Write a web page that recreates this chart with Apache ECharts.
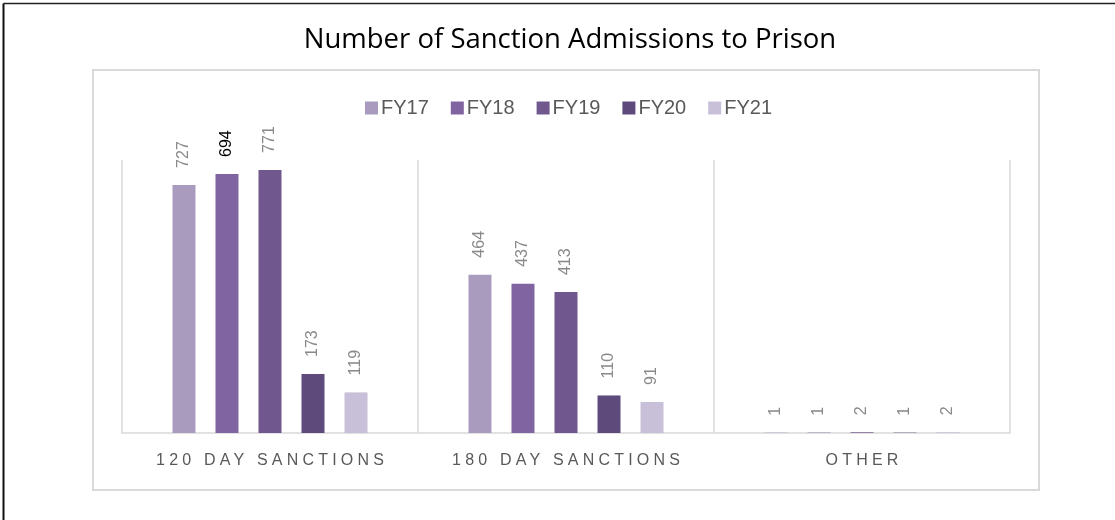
<!DOCTYPE html>
<html><head><meta charset="utf-8">
<script src="https://cdn.jsdelivr.net/npm/echarts@6/dist/echarts.min.js"></script>
<style>html,body{margin:0;padding:0;background:#fff}#c{width:1115px;height:520px}</style>
</head><body><div id="c"></div>
<script>
const chartTitle = 'Number of Sanction Admissions to Prison';
const categories = ['120 DAY SANCTIONS', '180 DAY SANCTIONS', 'OTHER'];
const seriesNames = ['FY17', 'FY18', 'FY19', 'FY20', 'FY21'];
const fy17 = [727, 464, 1];
const fy18 = [759, 437, 1];          // bar heights as drawn
const fy18Labels = ['694', '437', '1']; // labels as printed
const fy19 = [771, 413, 2];
const fy20 = [173, 110, 1];
const fy21 = [119, 91, 2];
const seriesValues = [fy17, fy18, fy19, fy20, fy21];
const seriesLabels = [null, fy18Labels, null, null, null];
const colors = ['#a99bbd', '#8064a2', '#70588e', '#5e4a7b', '#c8c0d8'];

// letter spacing for the category axis labels only
const origFill = CanvasRenderingContext2D.prototype.fillText;
CanvasRenderingContext2D.prototype.fillText = function (t, x, y, m) {
  const spaced = categories.indexOf(t) >= 0;
  if ('letterSpacing' in this) this.letterSpacing = spaced ? '4.2px' : '0px';
  const dx = spaced ? 2.1 : 0;
  const r = m === undefined ? origFill.call(this, t, x + dx, y) : origFill.call(this, t, x + dx, y, m);
  if ('letterSpacing' in this) this.letterSpacing = '0px';
  return r;
};

const FONT = "'Liberation Sans', Arial, sans-serif";
const chart = echarts.init(document.getElementById('c'), null, { renderer: 'canvas' });

const series = seriesNames.map((name, si) => ({
  name: name,
  type: 'bar',
  barWidth: 23,
  barGap: '87%',
  itemStyle: { color: colors[si] },
  label: {
    show: true,
    position: 'top',
    rotate: 90,
    align: 'left',
    verticalAlign: 'middle',
    distance: 17,
    fontFamily: FONT,
    fontSize: 16,
    color: '#898989'
  },
  data: seriesValues[si].map((v, i) => {
    const item = { value: v };
    if (seriesLabels[si] && String(seriesLabels[si][i]) !== String(v)) {
      item.label = { formatter: seriesLabels[si][i], color: '#000000' };
    }
    return item;
  })
}));

chart.setOption({
  animation: false,
  backgroundColor: '#ffffff',
  title: {
    text: chartTitle,
    left: 565,
    textAlign: 'center',
    top: 21,
    textStyle: { fontFamily: "'Open Sans', sans-serif", fontSize: 27.5, fontWeight: 'normal', color: '#000000' }
  },
  legend: {
    data: seriesNames,
    left: 360,
    top: 93,
    itemWidth: 13,
    itemHeight: 13,
    itemGap: 22,
    icon: 'rect',
    textStyle: { fontFamily: FONT, fontSize: 20, color: '#595959', padding: [0, 0, 0, -2] }
  },
  graphic: [
    { type: 'rect', shape: { x: 93, y: 70, width: 946, height: 420 }, style: { fill: 'none', stroke: '#d9d9d9', lineWidth: 2 }, z: 0 },
    { type: 'line', shape: { x1: 3.5, y1: 3.5, x2: 1115, y2: 3.5 }, style: { stroke: '#222', lineWidth: 1.5 } },
    { type: 'line', shape: { x1: 3.5, y1: 3.5, x2: 3.5, y2: 520 }, style: { stroke: '#111', lineWidth: 2 } }
  ],
  grid: { left: 122, right: 105, top: 160, bottom: 87 },
  xAxis: {
    type: 'category',
    data: categories,
    axisTick: { show: false },
    axisLine: { lineStyle: { color: '#d9d9d9', width: 1.5 } },
    splitLine: { show: true, interval: 0, lineStyle: { color: '#d9d9d9', width: 1.5 } },
    axisLabel: { margin: 20, fontFamily: FONT, fontSize: 16, color: '#595959', interval: 0 }
  },
  yAxis: {
    type: 'value',
    min: 0,
    max: 800,
    show: false,
    splitLine: { show: false }
  },
  series: series
});
</script>
</body></html>
